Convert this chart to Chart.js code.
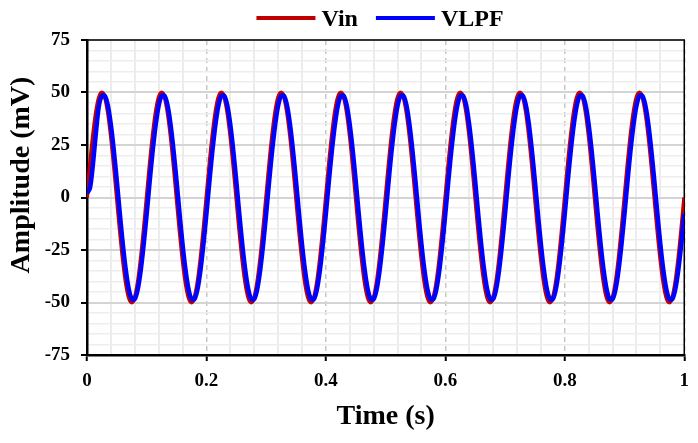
<!DOCTYPE html>
<html>
<head>
<meta charset="utf-8">
<script src="https://cdn.jsdelivr.net/npm/chart.js@4/dist/chart.umd.min.js"></script>
<style>
  body { margin: 0; background: #fff; }
  #wrap { width: 698px; height: 443px; }
</style>
</head>
<body>
<div id="wrap"><canvas id="sigChart" width="698" height="443"></canvas></div>
<script>
// time samples (s)
const time = [
  0, 0.005, 0.01, 0.015, 0.02, 0.025, 0.03, 0.035, 0.04, 0.045, 0.05, 0.055, 0.06, 0.065, 0.07, 0.075, 0.08, 0.085, 0.09, 0.095,
  0.1, 0.105, 0.11, 0.115, 0.12, 0.125, 0.13, 0.135, 0.14, 0.145, 0.15, 0.155, 0.16, 0.165, 0.17, 0.175, 0.18, 0.185, 0.19, 0.195,
  0.2, 0.205, 0.21, 0.215, 0.22, 0.225, 0.23, 0.235, 0.24, 0.245, 0.25, 0.255, 0.26, 0.265, 0.27, 0.275, 0.28, 0.285, 0.29, 0.295,
  0.3, 0.305, 0.31, 0.315, 0.32, 0.325, 0.33, 0.335, 0.34, 0.345, 0.35, 0.355, 0.36, 0.365, 0.37, 0.375, 0.38, 0.385, 0.39, 0.395,
  0.4, 0.405, 0.41, 0.415, 0.42, 0.425, 0.43, 0.435, 0.44, 0.445, 0.45, 0.455, 0.46, 0.465, 0.47, 0.475, 0.48, 0.485, 0.49, 0.495,
  0.5, 0.505, 0.51, 0.515, 0.52, 0.525, 0.53, 0.535, 0.54, 0.545, 0.55, 0.555, 0.56, 0.565, 0.57, 0.575, 0.58, 0.585, 0.59, 0.595,
  0.6, 0.605, 0.61, 0.615, 0.62, 0.625, 0.63, 0.635, 0.64, 0.645, 0.65, 0.655, 0.66, 0.665, 0.67, 0.675, 0.68, 0.685, 0.69, 0.695,
  0.7, 0.705, 0.71, 0.715, 0.72, 0.725, 0.73, 0.735, 0.74, 0.745, 0.75, 0.755, 0.76, 0.765, 0.77, 0.775, 0.78, 0.785, 0.79, 0.795,
  0.8, 0.805, 0.81, 0.815, 0.82, 0.825, 0.83, 0.835, 0.84, 0.845, 0.85, 0.855, 0.86, 0.865, 0.87, 0.875, 0.88, 0.885, 0.89, 0.895,
  0.9, 0.905, 0.91, 0.915, 0.92, 0.925, 0.93, 0.935, 0.94, 0.945, 0.95, 0.955, 0.96, 0.965, 0.97, 0.975, 0.98, 0.985, 0.99, 0.995,
  1
];

// input signal (mV)
const vin = [
  0, 15.5, 29.4, 40.5, 47.6, 50, 47.6, 40.5, 29.4, 15.5, 0, -15.5, -29.4, -40.5, -47.6, -50, -47.6, -40.5, -29.4, -15.5,
  0, 15.5, 29.4, 40.5, 47.6, 50, 47.6, 40.5, 29.4, 15.5, 0, -15.5, -29.4, -40.5, -47.6, -50, -47.6, -40.5, -29.4, -15.5,
  0, 15.5, 29.4, 40.5, 47.6, 50, 47.6, 40.5, 29.4, 15.5, 0, -15.5, -29.4, -40.5, -47.6, -50, -47.6, -40.5, -29.4, -15.5,
  0, 15.5, 29.4, 40.5, 47.6, 50, 47.6, 40.5, 29.4, 15.5, 0, -15.5, -29.4, -40.5, -47.6, -50, -47.6, -40.5, -29.4, -15.5,
  0, 15.5, 29.4, 40.5, 47.6, 50, 47.6, 40.5, 29.4, 15.5, 0, -15.5, -29.4, -40.5, -47.6, -50, -47.6, -40.5, -29.4, -15.5,
  0, 15.5, 29.4, 40.5, 47.6, 50, 47.6, 40.5, 29.4, 15.5, 0, -15.5, -29.4, -40.5, -47.6, -50, -47.6, -40.5, -29.4, -15.5,
  0, 15.5, 29.4, 40.5, 47.6, 50, 47.6, 40.5, 29.4, 15.5, 0, -15.5, -29.4, -40.5, -47.6, -50, -47.6, -40.5, -29.4, -15.5,
  0, 15.5, 29.4, 40.5, 47.6, 50, 47.6, 40.5, 29.4, 15.5, 0, -15.5, -29.4, -40.5, -47.6, -50, -47.6, -40.5, -29.4, -15.5,
  0, 15.5, 29.4, 40.5, 47.6, 50, 47.6, 40.5, 29.4, 15.5, 0, -15.5, -29.4, -40.5, -47.6, -50, -47.6, -40.5, -29.4, -15.5,
  0, 15.5, 29.4, 40.5, 47.6, 50, 47.6, 40.5, 29.4, 15.5, 0, -15.5, -29.4, -40.5, -47.6, -50, -47.6, -40.5, -29.4, -15.5,
  0
];

// low-pass filter output (mV), small lag and start-up transient
const vlpf = [
  2, 4.5, 16, 31, 43.7, 48.4, 48.4, 43.7, 34.6, 22.2, 7.7, -7.7, -22.2, -34.6, -43.7, -48.4, -48.4, -43.7, -34.6, -22.2,
  -7.7, 7.7, 22.2, 34.6, 43.7, 48.4, 48.4, 43.7, 34.6, 22.2, 7.7, -7.7, -22.2, -34.6, -43.7, -48.4, -48.4, -43.7, -34.6, -22.2,
  -7.7, 7.7, 22.2, 34.6, 43.7, 48.4, 48.4, 43.7, 34.6, 22.2, 7.7, -7.7, -22.2, -34.6, -43.7, -48.4, -48.4, -43.7, -34.6, -22.2,
  -7.7, 7.7, 22.2, 34.6, 43.7, 48.4, 48.4, 43.7, 34.6, 22.2, 7.7, -7.7, -22.2, -34.6, -43.7, -48.4, -48.4, -43.7, -34.6, -22.2,
  -7.7, 7.7, 22.2, 34.6, 43.7, 48.4, 48.4, 43.7, 34.6, 22.2, 7.7, -7.7, -22.2, -34.6, -43.7, -48.4, -48.4, -43.7, -34.6, -22.2,
  -7.7, 7.7, 22.2, 34.6, 43.7, 48.4, 48.4, 43.7, 34.6, 22.2, 7.7, -7.7, -22.2, -34.6, -43.7, -48.4, -48.4, -43.7, -34.6, -22.2,
  -7.7, 7.7, 22.2, 34.6, 43.7, 48.4, 48.4, 43.7, 34.6, 22.2, 7.7, -7.7, -22.2, -34.6, -43.7, -48.4, -48.4, -43.7, -34.6, -22.2,
  -7.7, 7.7, 22.2, 34.6, 43.7, 48.4, 48.4, 43.7, 34.6, 22.2, 7.7, -7.7, -22.2, -34.6, -43.7, -48.4, -48.4, -43.7, -34.6, -22.2,
  -7.7, 7.7, 22.2, 34.6, 43.7, 48.4, 48.4, 43.7, 34.6, 22.2, 7.7, -7.7, -22.2, -34.6, -43.7, -48.4, -48.4, -43.7, -34.6, -22.2,
  -7.7, 7.7, 22.2, 34.6, 43.7, 48.4, 48.4, 43.7, 34.6, 22.2, 7.7, -7.7, -22.2, -34.6, -43.7, -48.4, -48.4, -43.7, -34.6, -22.2,
  -7.7
];

const seriesNames = ['Vin', 'VLPF'];
const seriesColors = ['#C00000', '#0000FF'];

const xMajor = [0, 0.2, 0.4, 0.6, 0.8, 1];
const yMajor = [-75, -50, -25, 0, 25, 50, 75];

const yTitle = 'Amplitude (mV)';
const xTitle = 'Time (s)';

const FONT = "'Liberation Serif', 'Times New Roman', serif";

function isXMajor(v) { return xMajor.some(m => Math.abs(m - v) < 1e-6); }
function isYMajor(v) { return yMajor.some(m => Math.abs(m - v) < 1e-6); }

function toPoints(ys) { return time.map((t, i) => ({ x: t, y: ys[i] })); }

// рамка сверху/справа, подпись оси Y и легенда над графиком
const framePlugin = {
  id: 'frame',
  beforeDatasetsDraw(chart) {
    const { ctx, chartArea: a } = chart;
    ctx.save();
    ctx.strokeStyle = '#000';
    ctx.lineWidth = 1.5;
    ctx.beginPath();
    ctx.moveTo(a.left, a.top);
    ctx.lineTo(a.right, a.top);
    ctx.lineTo(a.right, a.bottom);
    ctx.stroke();
    ctx.restore();
  },
  afterDraw(chart) {
    const { ctx } = chart;

    // Y title (sits a bit above the axis centre in the original)
    ctx.save();
    ctx.font = 'bold 28px ' + FONT;
    ctx.fillStyle = '#000';
    ctx.textAlign = 'center';
    ctx.textBaseline = 'middle';
    ctx.translate(21.5, 175);
    ctx.rotate(-Math.PI / 2);
    ctx.fillText(yTitle, 0, 0);
    ctx.restore();

    // legend
    ctx.save();
    ctx.font = 'bold 24px ' + FONT;
    ctx.textBaseline = 'alphabetic';
    const lineLen = 59, gap = 6, itemGap = 18;
    const items = chart.data.datasets.map(d => ({ label: d.label, color: d.borderColor, w: ctx.measureText(d.label).width }));
    const total = items.reduce((s, it) => s + lineLen + gap + it.w, 0) + itemGap * (items.length - 1);
    let x = 380 - total / 2;
    items.forEach(it => {
      ctx.strokeStyle = it.color;
      ctx.lineWidth = 4;
      ctx.beginPath();
      ctx.moveTo(x, 18);
      ctx.lineTo(x + lineLen, 18);
      ctx.stroke();
      x += lineLen + gap;
      ctx.fillStyle = '#000';
      ctx.fillText(it.label, x, 26);
      x += it.w + itemGap;
    });
    ctx.restore();
  }
};

function initChart() {
  new Chart(document.getElementById('sigChart'), {
    type: 'line',
    data: {
      datasets: [
        {
          label: seriesNames[0],
          data: toPoints(vin),
          borderColor: seriesColors[0],
          borderWidth: 4,
          pointRadius: 0,
          tension: 0.3,
          order: 2
        },
        {
          label: seriesNames[1],
          data: toPoints(vlpf),
          borderColor: seriesColors[1],
          borderWidth: 4.5,
          pointRadius: 0,
          tension: 0.3,
          order: 1
        }
      ]
    },
    options: {
      responsive: false,
      animation: false,
      devicePixelRatio: 1,
      layout: { padding: { top: 40, right: 12, left: 0, bottom: 0 } },
      plugins: {
        legend: { display: false },
        tooltip: { enabled: false }
      },
      scales: {
        x: {
          type: 'linear',
          min: 0,
          max: 1,
          afterFit: s => { s.height = 88; },
          ticks: {
            stepSize: 0.04,
            autoSkip: false,
            maxRotation: 0,
            padding: 9,
            color: '#000',
            font: { family: FONT, size: 19, weight: 'bold' },
            callback: v => isXMajor(v) ? String(Math.round(v * 10) / 10) : ''
          },
          grid: {
            color: c => isXMajor(c.tick.value) ? '#c8c8c8' : '#ececec',
            lineWidth: c => isXMajor(c.tick.value) ? 1.5 : 2,
            tickLength: 6,
            tickWidth: 2,
            tickColor: c => isXMajor(c.tick.value) ? '#000' : 'rgba(0,0,0,0)'
          },
          border: {
            color: '#000',
            width: 2.5,
            dash: c => (c.tick && isXMajor(c.tick.value)) ? [5, 4] : []
          },
          title: {
            display: true,
            text: xTitle,
            color: '#000',
            font: { family: FONT, size: 28, weight: 'bold' },
            padding: { top: 9, bottom: 9 }
          }
        },
        y: {
          min: -75,
          max: 75,
          afterFit: s => { s.width = 87; },
          ticks: {
            stepSize: 5,
            autoSkip: false,
            padding: 11,
            color: '#000',
            font: { family: FONT, size: 19, weight: 'bold' },
            callback: v => isYMajor(v) ? String(v) : ''
          },
          grid: {
            color: c => isYMajor(c.tick.value) ? '#d4d4d4' : '#ededed',
            lineWidth: c => isYMajor(c.tick.value) ? 2 : 1.5,
            tickLength: 6,
            tickWidth: 2,
            tickColor: c => isYMajor(c.tick.value) ? '#000' : 'rgba(0,0,0,0)'
          },
          border: { color: '#000', width: 2.5 }
        }
      }
    },
    plugins: [framePlugin]
  });
}

document.addEventListener('DOMContentLoaded', initChart);
</script>
</body>
</html>
